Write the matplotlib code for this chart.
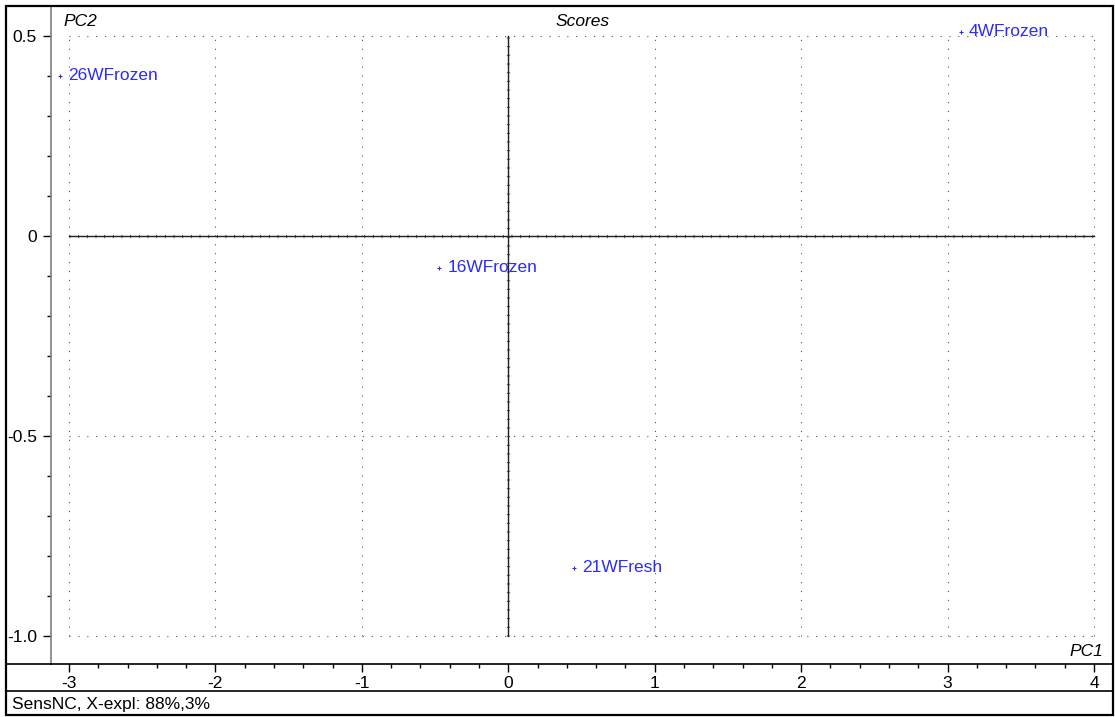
import matplotlib.pyplot as plt
from matplotlib.lines import Line2D
from matplotlib.patches import Rectangle
from matplotlib.ticker import MultipleLocator, FixedLocator

plt.rcParams['font.family'] = ['Liberation Sans', 'DejaVu Sans']
plt.rcParams['axes.unicode_minus'] = False

# Scores de PC1 x PC2
amostras = ["26WFrozen", "4WFrozen", "16WFrozen", "21WFresh"]
pc1 = [-3.06, 3.09, -0.47, 0.45]
pc2 = [0.40, 0.51, -0.08, -0.83]

xticks = [-3, -2, -1, 0, 1, 2, 3, 4]
yticks = [0.5, 0, -0.5, -1.0]
yticklabels = ["0.5", "0", "-0.5", "-1.0"]
rodape = "SensNC, X-expl: 88%,3%"

W, H = 1115, 717
fig = plt.figure(figsize=(W / 100, H / 100), dpi=100)

def fx(px):
    return px / W

def fy(py):
    return 1 - py / H

# área do gráfico
ax = fig.add_axes([fx(51), fy(664), fx(1113) - fx(51), fy(6) - fy(664)])
ax.set_xlim(-3.123, 4.13)
ax.set_ylim(-1.07, 0.575)

for lado in ["top", "right"]:
    ax.spines[lado].set_visible(False)
ax.spines["left"].set_color("#808080")
ax.spines["left"].set_linewidth(1.2)
ax.spines["bottom"].set_color("black")
ax.spines["bottom"].set_linewidth(1.2)

ax.xaxis.set_major_locator(FixedLocator(xticks))
ax.xaxis.set_minor_locator(MultipleLocator(0.2))
ax.yaxis.set_major_locator(FixedLocator(yticks))
ax.yaxis.set_minor_locator(MultipleLocator(0.1))
ax.set_yticklabels(yticklabels)
ax.tick_params(axis="both", which="major", direction="out", length=6, width=1,
               labelsize=12.5, colors="black")
ax.tick_params(axis="both", which="minor", direction="out", length=3, width=1)
ax.tick_params(axis="x", pad=3)
ax.tick_params(axis="y", pad=4)

# grade pontilhada limitada ao intervalo dos ticks
pont = dict(color="#555555", linewidth=0.8, linestyle=(0, (1, 7)))
for xv in xticks:
    ax.plot([xv, xv], [min(yticks), max(yticks)], **pont, zorder=1)
for yv in yticks:
    if yv != 0:
        ax.plot([min(xticks), max(xticks)], [yv, yv], **pont, zorder=1)

# eixos em zero com pequenas marcas
marcas = dict(color="#555555", linewidth=2.4, linestyle=(0, (0.3, 2.3)))
ax.plot([min(xticks), max(xticks)], [0, 0], **marcas, zorder=2)
ax.plot([0, 0], [min(yticks), max(yticks)], **marcas, zorder=2)
ax.plot([min(xticks), max(xticks)], [0, 0], color="#222222", linewidth=1.0, zorder=3)
ax.plot([0, 0], [min(yticks), max(yticks)], color="#222222", linewidth=1.0, zorder=3)

# pontos e rótulos
azul = "#2b2bff"
ax.plot(pc1, pc2, linestyle="none", marker="+", markersize=3, mew=0.8, color=azul, zorder=4)
for nome, x, y in zip(amostras, pc1, pc2):
    ax.annotate(nome, (x, y), xytext=(6, 0), textcoords="offset points",
                va="center", ha="left", fontsize=12.5, color=azul, zorder=5)

fig.text(fx(63), fy(22), "PC2", fontsize=12.5, style="italic", ha="left", va="center")
fig.text(fx(583), fy(22), "Scores", fontsize=12.5, style="italic", ha="center", va="center")
fig.text(fx(1103), fy(651), "PC1", fontsize=12.5, style="italic", ha="right", va="center")
fig.text(fx(12), fy(704), rodape, fontsize=12.5, ha="left", va="center")

# linhas da moldura
fig.add_artist(Line2D([fx(6), fx(51)], [fy(664), fy(664)], color="black", linewidth=1.2))
fig.add_artist(Line2D([fx(6), fx(1113)], [fy(691), fy(691)], color="black", linewidth=1.2))
fig.add_artist(Rectangle((fx(6), fy(715)), fx(1113) - fx(6), fy(6) - fy(715),
                         fill=False, edgecolor="black", linewidth=1.6,
                         transform=fig.transFigure))

fig.savefig("out.png", dpi=100)
